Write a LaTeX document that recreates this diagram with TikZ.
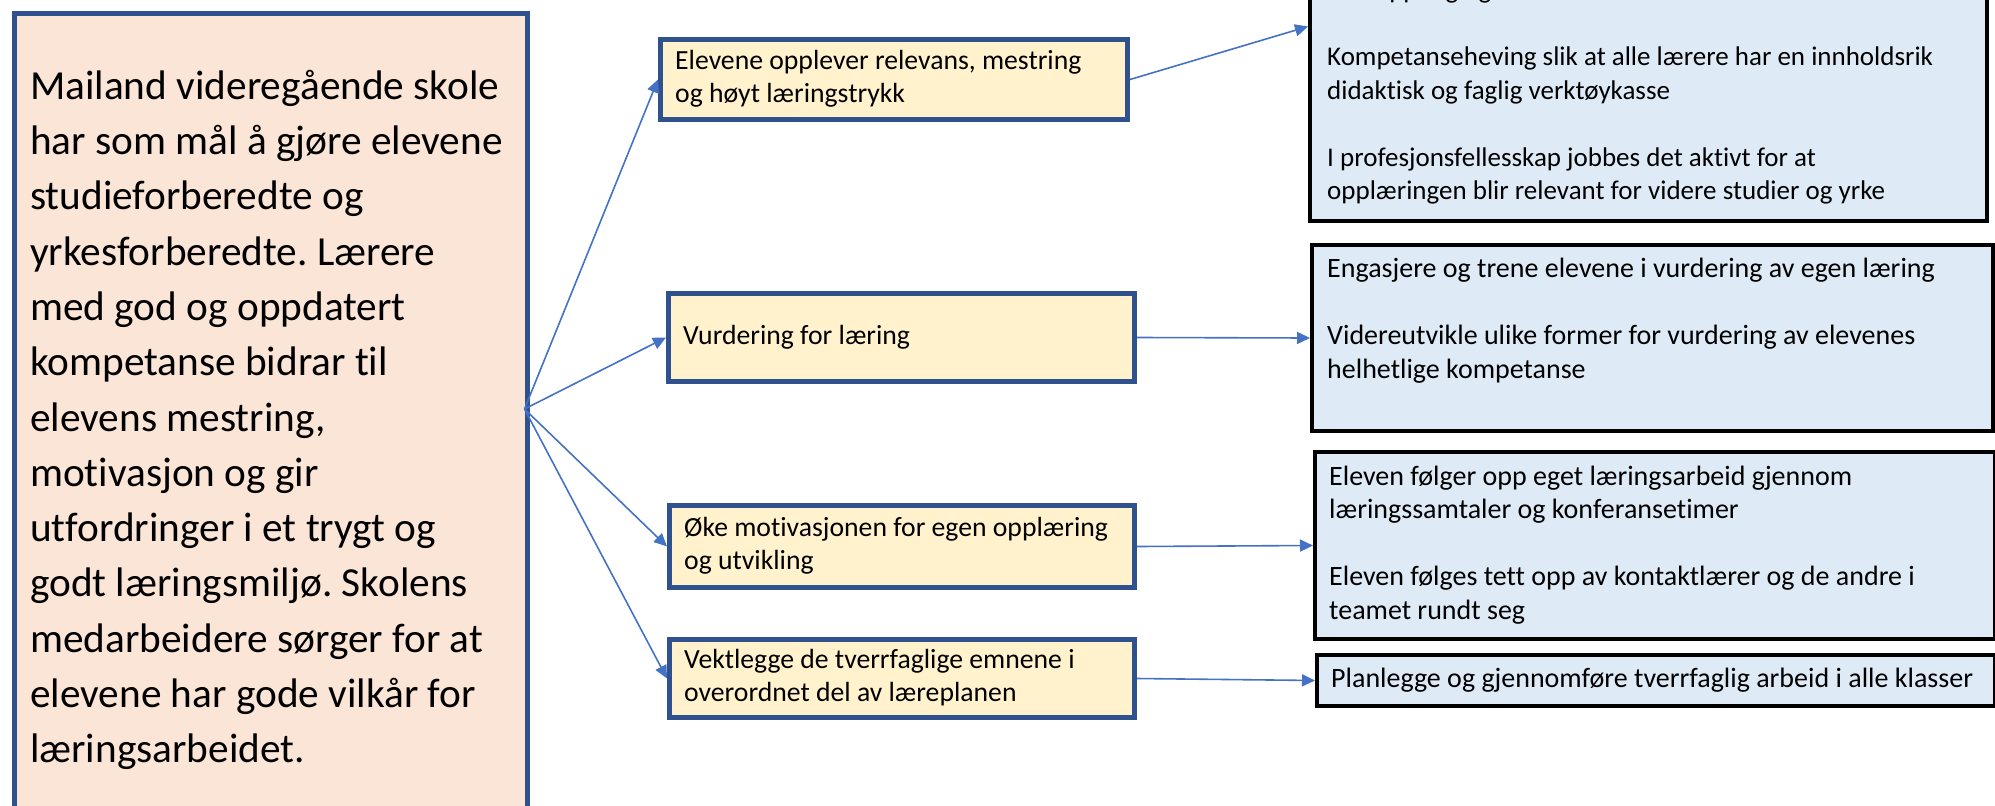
\documentclass[tikz,border=0pt]{standalone}
\usepackage{fontspec}
\setmainfont{Carlito}[Ligatures=NoCommon]
\usetikzlibrary{arrows.meta}
\definecolor{peach}{HTML}{FBE5D6}
\definecolor{cream}{HTML}{FFF2CC}
\definecolor{pale}{HTML}{DEEBF7}
\definecolor{navy}{HTML}{2F528F}
\definecolor{link}{HTML}{4472C4}
\frenchspacing
\begin{document}
\begin{tikzpicture}[x=1pt,y=-1pt,
  midbox/.style={draw=navy, line width=5pt, fill=cream, anchor=north west, inner sep=0pt},
  sidebox/.style={draw=black, line width=4pt, fill=pale, anchor=north west, inner sep=0pt},
  midtext/.style={anchor=west, inner sep=0pt, align=left, font=\fontsize{27.7}{33.5}\selectfont},
  sidetext/.style={anchor=west, inner sep=0pt, align=left, font=\fontsize{28}{33.6}\selectfont},
  conn/.style={draw=link, line width=1.6pt, -{Triangle[length=13pt,width=12pt]}}]
\useasboundingbox (0,0) rectangle (1995,806);
% left goal box
\node[draw=navy, line width=5pt, fill=peach, anchor=north west,
  minimum width=513pt, minimum height=830pt] (goal) at (11.5,10.5) {};
\node[anchor=north west, inner sep=0pt, align=left,
  font=\fontsize{41.3}{55.3}\selectfont] (goaltext) at (30,63)
  {\rule{0pt}{36pt}Mailand videregående skole\\
   har som mål å gjøre elevene\\
   studieforberedte og\\
   yrkesforberedte. Lærere\\
   med god og oppdatert\\
   kompetanse bidrar til\\
   elevens mestring,\\
   motivasjon og gir\\
   utfordringer i et trygt og\\
   godt læringsmiljø. Skolens\\
   medarbeidere sørger for at\\
   elevene har gode vilkår for\\
   læringsarbeidet.};
% middle boxes
\node[midbox, minimum width=467pt, minimum height=80pt] (b1) at (658,37) {};
\node[midtext] (b1t) at ([xshift=17pt]b1.west)
  {\strut Elevene opplever relevans, mestring\\og høyt læringstrykk\strut};
\node[midbox, minimum width=466pt, minimum height=88pt] (b2) at (666,291) {};
\node[midtext] (b2t) at ([xshift=17pt]b2.west) {\strut Vurdering for læring\strut};
\node[midbox, minimum width=465pt, minimum height=82pt] (b3) at (667,503) {};
\node[midtext] (b3t) at ([xshift=17pt]b3.west)
  {\strut Øke motivasjonen for egen opplæring\\og utvikling\strut};
\node[midbox, minimum width=465pt, minimum height=78pt] (b4) at (667,637) {};
\node[midtext] (b4t) at ([xshift=17pt]b4.west)
  {\strut Vektlegge de tverrfaglige emnene i\\overordnet del av læreplanen\strut};
% right boxes
\node[sidebox, minimum width=677pt, minimum height=389pt] (r1) at (1308,-170) {};
\node[anchor=north west, inner sep=0pt, align=left,
  font=\fontsize{27}{33.5}\selectfont] (r1t) at (1327,-26.5)
  {\rule{0pt}{25pt}Tett oppfølging\\[33.5pt]
   Kompetanseheving slik at alle lærere har en innholdsrik\\
   didaktisk og faglig verktøykasse\\[33.5pt]
   I profesjonsfellesskap jobbes det aktivt for at\\
   opplæringen blir relevant for videre studier og yrke};
\node[sidebox, minimum width=681pt, minimum height=186pt] (r2) at (1310,243) {};
\node[sidetext] (r2t) at ([xshift=17pt]r2.west)
  {\strut Engasjere og trene elevene i vurdering av egen læring\\[33.6pt]
   Videreutvikle ulike former for vurdering av elevenes\\
   helhetlige kompetanse\\\strut};
\node[sidebox, minimum width=680pt, minimum height=187pt] (r3) at (1313,450) {};
\node[sidetext] (r3t) at ([xshift=16pt]r3.west)
  {\strut Eleven følger opp eget læringsarbeid gjennom\\
   læringssamtaler og konferansetimer\\[33.6pt]
   Eleven følges tett opp av kontaktlærer og de andre i\\
   teamet rundt seg\strut};
\node[sidebox, minimum width=678pt, minimum height=51pt] (r4) at (1315,653) {};
\node[sidetext] (r4t) at ([xshift=16pt]r4.west)
  {\strut Planlegge og gjennomføre tverrfaglig arbeid i alle klasser\strut};
% connectors
\coordinate (fan) at (524.5,409);
\draw[conn] (fan) -- (b1.west);
\draw[conn] (fan) -- (b2.west);
\draw[conn] (fan) -- (b3.west);
\draw[conn] (fan) -- (b4.west);
\draw[conn] (b1.east) -- (r1.west);
\draw[conn] (b2.east) -- (r2.west);
\draw[conn] (b3.east) -- (r3.west);
\draw[conn] (b4.east) -- (r4.west);
\end{tikzpicture}
\end{document}
